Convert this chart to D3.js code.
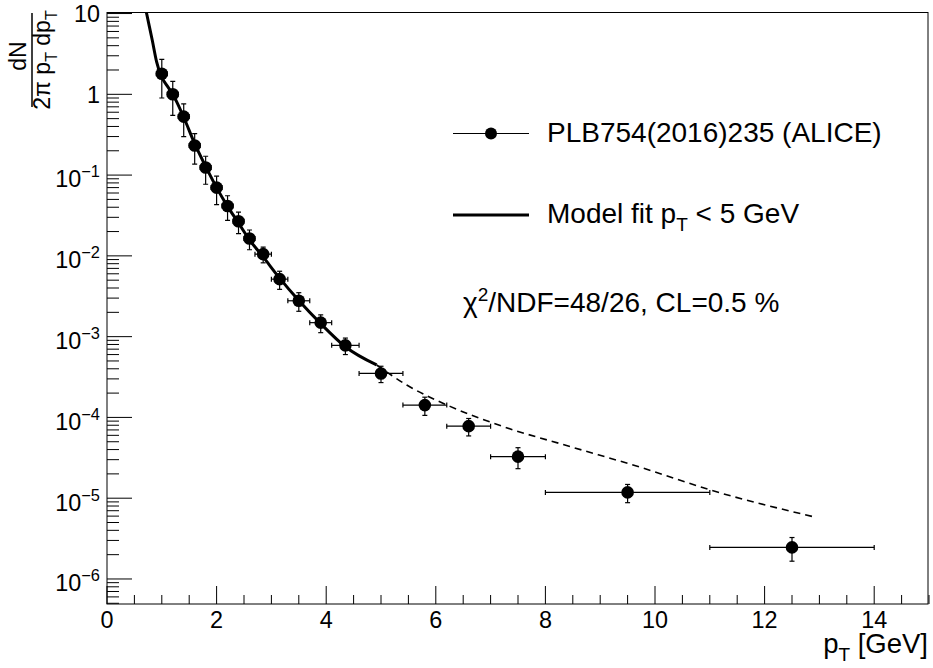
<!DOCTYPE html>
<html>
<head>
<meta charset="utf-8">
<script src="https://cdn.jsdelivr.net/npm/d3@7"></script>
<style>
  body { margin: 0; background: #fff; }
  text { font-family: "Liberation Sans", Arial, sans-serif; fill: #000; }
</style>
</head>
<body>
<div id="chart-area"></div>
<script>
// data
var ptVals = [1.0, 1.2, 1.4, 1.6, 1.8, 2.0, 2.2, 2.4, 2.6, 2.85, 3.15, 3.5, 3.9, 4.35, 5.0, 5.8, 6.6, 7.5, 9.5, 12.5];
var ptErrs = [0.1, 0.1, 0.1, 0.1, 0.1, 0.1, 0.1, 0.1, 0.1, 0.15, 0.15, 0.2, 0.2, 0.25, 0.4, 0.4, 0.4, 0.5, 1.5, 1.5];
var yieldVals = [1.8, 1.0, 0.53, 0.232, 0.124, 0.070, 0.0415, 0.0268, 0.0164, 0.0105, 0.00515, 0.00278, 0.00149, 7.8e-4, 3.5e-4, 1.42e-4, 7.8e-5, 3.27e-5, 1.18e-5, 2.46e-6];
var yieldErrs = [0.9, 0.45, 0.23, 0.095, 0.047, 0.027, 0.014, 0.008, 0.0045, 0.0023, 0.0013, 0.00072, 0.00037, 1.8e-4, 8e-5, 3.6e-5, 1.9e-5, 9.5e-6, 3e-6, 8e-7];

// model fit, solid part (pT < 5) and dashed extrapolation
var fitPt = [0.70, 0.723, 0.827, 0.907, 0.985, 1.095, 1.2, 1.4, 1.6, 1.8, 2.0, 2.2, 2.4, 2.6, 2.85, 3.15, 3.5, 3.9, 4.35, 4.92];
var fitVal = [11.9, 10, 4.64, 2.5, 1.71, 1.28, 1.0, 0.52, 0.245, 0.128, 0.070, 0.041, 0.0255, 0.0158, 0.0097, 0.0053, 0.0028, 0.00145, 7.5e-4, 4.46e-4];
var extPt = [4.92, 5.47, 6.26, 7.23, 8.45, 9.79, 11.0, 12.89];
var extVal = [4.46e-4, 2.52e-4, 1.37e-4, 7.7e-5, 4.36e-5, 2.35e-5, 1.27e-5, 5.9e-6];

var xTicks = [0, 2, 4, 6, 8, 10, 12, 14];
var yDecades = [1, 0, -1, -2, -3, -4, -5, -6];

var W = 933, H = 668;
// frame edges (note: "top" is taken by window.top)
var fL = 107, fR = 928, fT = 12.5, fB = 604;

var svg = d3.select('#chart-area').append('svg')
    .attr('width', W)
    .attr('height', H);

var x = d3.scaleLinear().domain([0, 15]).range([fL, fR + 1]);
var y = d3.scaleLog().domain([4.9e-7, 10.3]).range([fB, fT]);

svg.append('clipPath').attr('id', 'frame')
  .append('rect')
    .attr('x', fL).attr('y', fT)
    .attr('width', fR - fL).attr('height', fB - fT);

// frame
svg.append('rect')
    .attr('x', fL).attr('y', fT)
    .attr('width', fR - fL).attr('height', fB - fT)
    .attr('fill', 'none').attr('stroke', '#000').attr('stroke-width', 1);

// x axis ticks (major every 2, minor every 0.5)
var xMinor = d3.range(0, 15.01, 0.5);
svg.selectAll('.xtick').data(xMinor).enter()
  .append('line')
    .attr('x1', function(d) { return x(d); })
    .attr('x2', function(d) { return x(d); })
    .attr('y1', fB)
    .attr('y2', function(d) { return d % 2 === 0 ? fB - 18 : fB - 9; })
    .attr('stroke', '#000');

svg.selectAll('.xlab').data(xTicks).enter()
  .append('text')
    .attr('x', function(d) { return x(d); })
    .attr('y', 628)
    .attr('text-anchor', 'middle')
    .attr('font-size', 23.4)
    .text(function(d) { return d; });

// y axis ticks (log)
var yMinor = [];
for (var k = -7; k <= 1; k++) {
  for (var m = 1; m <= 9; m++) {
    var v = m * Math.pow(10, k);
    if (v >= 4.9e-7 && v <= 10.3) yMinor.push({v: v, major: m === 1});
  }
}
svg.selectAll('.ytick').data(yMinor).enter()
  .append('line')
    .attr('x1', fL)
    .attr('x2', function(d) { return d.major ? fL + 25 : fL + 12; })
    .attr('y1', function(d) { return y(d.v); })
    .attr('y2', function(d) { return y(d.v); })
    .attr('stroke', '#000');

var ylab = svg.selectAll('.ylab').data(yDecades).enter()
  .append('text')
    .attr('x', 100)
    .attr('y', function(d) { return y(Math.pow(10, d)) + (d >= 0 ? 8.4 : 12.4); })
    .attr('text-anchor', 'end')
    .attr('font-size', 23.4);
ylab.each(function(d) {
  var t = d3.select(this);
  if (d === 1) t.text('10');
  else if (d === 0) t.text('1');
  else {
    t.append('tspan').text('10');
    t.append('tspan').attr('font-size', 16.4).attr('dy', -10).text('\u2212' + (-d));
  }
});

// axis titles
var xt = svg.append('text')
    .attr('x', 928).attr('y', 653)
    .attr('text-anchor', 'end')
    .attr('font-size', 27.5);
xt.append('tspan').text('p');
xt.append('tspan').attr('font-size', 19).attr('dy', 8).text('T');
xt.append('tspan').attr('dy', -8).text(' [GeV]');

var yt = svg.append('g').attr('transform', 'translate(32,60) rotate(-90)');
yt.append('line')
    .attr('x1', -47).attr('x2', 47).attr('y1', 0).attr('y2', 0)
    .attr('stroke', '#000').attr('stroke-width', 1.5);
yt.append('text')
    .attr('x', 4).attr('y', -6)
    .attr('text-anchor', 'middle')
    .attr('font-size', 23)
    .text('dN');
var den = yt.append('text')
    .attr('x', 0).attr('y', 18)
    .attr('text-anchor', 'middle')
    .attr('font-size', 23);
den.append('tspan').text('2\u03c0 p');
den.append('tspan').attr('font-size', 16).attr('dy', 7).text('T');
den.append('tspan').attr('dy', -7).text(' dp');
den.append('tspan').attr('font-size', 16).attr('dy', 7).text('T');

// fit curve
var line = d3.line()
    .x(function(d) { return x(d[0]); })
    .y(function(d) { return y(d[1]); })
    .curve(d3.curveMonotoneX);

var plot = svg.append('g').attr('clip-path', 'url(#frame)');

plot.append('path')
    .datum(d3.zip(extPt, extVal))
    .attr('d', line)
    .attr('fill', 'none')
    .attr('stroke', '#000')
    .attr('stroke-width', 1.6)
    .attr('stroke-dasharray', '7,5');

plot.append('path')
    .datum(d3.zip(fitPt, fitVal))
    .attr('d', line)
    .attr('fill', 'none')
    .attr('stroke', '#000')
    .attr('stroke-width', 3);

// data points with errors
var pts = ptVals.map(function(p, i) {
  return {x: p, ex: ptErrs[i], y: yieldVals[i], ey: yieldErrs[i]};
});
var cap = 2.5;
var g = plot.selectAll('.pt').data(pts).enter().append('g');

g.append('line')
    .attr('x1', function(d) { return x(d.x - d.ex); })
    .attr('x2', function(d) { return x(d.x + d.ex); })
    .attr('y1', function(d) { return y(d.y); })
    .attr('y2', function(d) { return y(d.y); })
    .attr('stroke', '#000').attr('stroke-width', 1.2);
g.append('line')
    .attr('x1', function(d) { return x(d.x); })
    .attr('x2', function(d) { return x(d.x); })
    .attr('y1', function(d) { return y(d.y - d.ey); })
    .attr('y2', function(d) { return y(d.y + d.ey); })
    .attr('stroke', '#000').attr('stroke-width', 1.2);
// end caps
[-1, 1].forEach(function(s) {
  g.append('line')
      .attr('x1', function(d) { return x(d.x + s * d.ex); })
      .attr('x2', function(d) { return x(d.x + s * d.ex); })
      .attr('y1', function(d) { return y(d.y) - cap; })
      .attr('y2', function(d) { return y(d.y) + cap; })
      .attr('stroke', '#000').attr('stroke-width', 1.2);
  g.append('line')
      .attr('x1', function(d) { return x(d.x) - cap; })
      .attr('x2', function(d) { return x(d.x) + cap; })
      .attr('y1', function(d) { return y(d.y + s * d.ey); })
      .attr('y2', function(d) { return y(d.y + s * d.ey); })
      .attr('stroke', '#000').attr('stroke-width', 1.2);
});
g.append('circle')
    .attr('cx', function(d) { return x(d.x); })
    .attr('cy', function(d) { return y(d.y); })
    .attr('r', 6.3)
    .attr('fill', '#000');

// legend
svg.append('line')
    .attr('x1', 453).attr('x2', 529).attr('y1', 133.5).attr('y2', 133.5)
    .attr('stroke', '#000').attr('stroke-width', 1.2);
svg.append('circle')
    .attr('cx', 491).attr('cy', 133.5).attr('r', 6).attr('fill', '#000');
svg.append('text')
    .attr('x', 547).attr('y', 141.5)
    .attr('font-size', 28)
    .text('PLB754(2016)235 (ALICE)');

svg.append('line')
    .attr('x1', 453).attr('x2', 529).attr('y1', 215).attr('y2', 215)
    .attr('stroke', '#000').attr('stroke-width', 3);
var lt = svg.append('text')
    .attr('x', 547).attr('y', 223)
    .attr('font-size', 28);
lt.append('tspan').text('Model fit p');
lt.append('tspan').attr('font-size', 19).attr('dy', 8).text('T');
lt.append('tspan').attr('dy', -8).text(' < 5 GeV');

var ct = svg.append('text')
    .attr('x', 463).attr('y', 312)
    .attr('font-size', 28);
ct.append('tspan').text('\u03c7');
ct.append('tspan').attr('font-size', 19).attr('dy', -11).text('2');
ct.append('tspan').attr('dy', 11).text('/NDF=48/26, CL=0.5 %');
</script>
</body>
</html>
